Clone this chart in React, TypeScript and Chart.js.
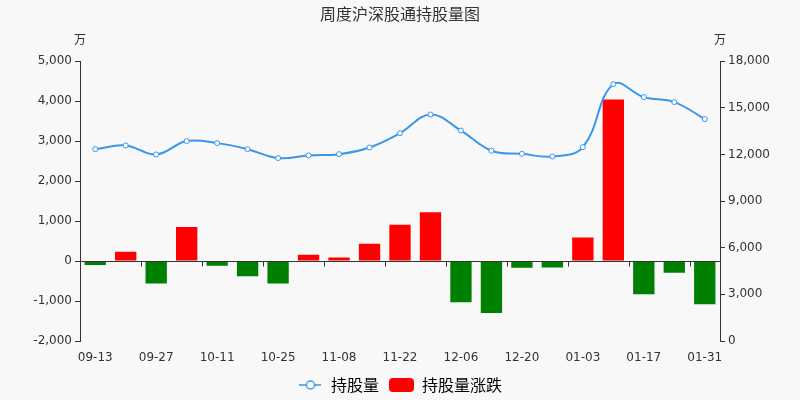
import React, { useEffect, useRef } from 'react';
import { Chart, registerables, ChartConfiguration } from 'chart.js';

Chart.register(...registerables);

const weeks = [
  '09-13', '09-20', '09-27', '10-04', '10-11', '10-18', '10-25', '11-01', '11-08', '11-15', '11-22',
  '11-29', '12-06', '12-13', '12-20', '12-27', '01-03', '01-10', '01-17', '01-24', '01-31',
];
// 持股量（万）
const holdings = [
  12340, 12580, 12000, 12860, 12730, 12340, 11770, 11940, 12020, 12450, 13370,
  14570, 13540, 12240, 12040, 11870, 12470, 16520, 15690, 15370, 14280,
];
// 持股量涨跌（万）
const changes = [
  -100, 230, -560, 850, -120, -380, -560, 160, 90, 430, 910,
  1220, -1030, -1300, -170, -160, 590, 4040, -830, -290, -1080,
];
const leftTicks = [-2000, 5000, 1000];
const rightTicks = [0, 18000, 3000];

const FONT = '"DejaVu Sans", "Noto Sans CJK SC", sans-serif';
const CJK = '"Noto Sans CJK SC", "DejaVu Sans", sans-serif';
const LINE_COLOR = '#3a97e8';

// 图例图标
const makeLineIcon = () => {
  const c = document.createElement('canvas');
  c.width = 22;
  c.height = 12;
  const g = c.getContext('2d')!;
  g.strokeStyle = LINE_COLOR;
  g.lineWidth = 1.5;
  g.beginPath();
  g.moveTo(0, 6);
  g.lineTo(22, 6);
  g.stroke();
  g.fillStyle = '#fff';
  g.beginPath();
  g.arc(11, 6, 4, 0, Math.PI * 2);
  g.fill();
  g.stroke();
  return c;
};

const makeBarIcon = () => {
  const c = document.createElement('canvas');
  c.width = 25;
  c.height = 14;
  const g = c.getContext('2d')!;
  g.fillStyle = '#ff0000';
  g.beginPath();
  g.roundRect(0, 0, 25, 14, 4);
  g.fill();
  return c;
};

const fmt = (v: number | string) => Number(v).toLocaleString('en-US');

const App: React.FC = () => {
  const chartRef = useRef<HTMLCanvasElement>(null);
  const chartInstance = useRef<Chart | null>(null);

  useEffect(() => {
    document.body.style.margin = '0';
    if (!chartRef.current) return;
    const ctx = chartRef.current.getContext('2d');
    if (!ctx) return;

    const lineIcon = makeLineIcon();
    const barIcon = makeBarIcon();

    // 背景、零轴线、刻度、单位
    const decor = {
      id: 'decor',
      afterLayout(chart: any) {
        if (chart.legend) {
          chart.legend.top += 3;
          chart.legend.bottom += 3;
        }
      },
      beforeDraw(chart: Chart) {
        const c = chart.ctx;
        c.save();
        c.fillStyle = '#f8f8f8';
        c.fillRect(0, 0, chart.width, chart.height);
        c.restore();
      },
      afterDatasetsDraw(chart: Chart) {
        const c = chart.ctx;
        const x = chart.scales.x;
        const yl = chart.scales.yLeft;
        const yr = chart.scales.yRight;
        const area = chart.chartArea;
        const y0 = Math.round(yl.getPixelForValue(0)) + 0.5;
        c.save();
        c.strokeStyle = '#333';
        c.lineWidth = 1;
        c.beginPath();
        c.moveTo(area.left, y0);
        c.lineTo(area.right, y0);
        for (let k = 2; k < weeks.length; k += 2) {
          const px = Math.round((x.getPixelForValue(k - 1) + x.getPixelForValue(k)) / 2) + 0.5;
          c.moveTo(px, y0);
          c.lineTo(px, y0 + 5);
        }
        c.stroke();
        c.fillStyle = '#333';
        c.font = `12px ${CJK}`;
        c.textAlign = 'center';
        c.textBaseline = 'middle';
        c.fillText('万', yl.right, area.top - 22);
        c.fillText('万', yr.left, area.top - 22);
        c.restore();
      },
    };

    const config: ChartConfiguration = {
      type: 'bar',
      data: {
        labels: weeks,
        datasets: [
          {
            type: 'line',
            label: '持股量',
            data: holdings,
            yAxisID: 'yRight',
            borderColor: LINE_COLOR,
            borderWidth: 2,
            pointRadius: 2.5,
            pointBackgroundColor: '#fff',
            pointBorderColor: LINE_COLOR,
            pointBorderWidth: 1,
            tension: 0.4,
            order: 0,
          } as any,
          {
            type: 'bar',
            label: '持股量涨跌',
            data: changes,
            yAxisID: 'yLeft',
            backgroundColor: changes.map(v => (v >= 0 ? '#ff0000' : '#008000')),
            barPercentage: 0.7,
            categoryPercentage: 1,
            order: 1,
          } as any,
        ],
      },
      options: {
        responsive: false,
        animation: false,
        layout: { padding: { left: 0, right: 0, top: 0, bottom: 0 } },
        plugins: {
          title: {
            display: true,
            text: '周度沪深股通持股量图',
            color: '#333',
            font: { family: CJK, size: 16, weight: 'normal' },
            padding: { top: 4, bottom: 38 },
          },
          legend: {
            position: 'bottom',
            labels: {
              usePointStyle: true,
              pointStyleWidth: 25,
              color: '#333',
              font: { family: CJK, size: 16 },
              padding: 10,
              generateLabels: () => [
                { text: '持股量', pointStyle: lineIcon, fillStyle: LINE_COLOR, strokeStyle: LINE_COLOR, lineWidth: 0, datasetIndex: 0, hidden: false },
                { text: '持股量涨跌', pointStyle: barIcon, fillStyle: '#ff0000', strokeStyle: '#ff0000', lineWidth: 0, datasetIndex: 1, hidden: false },
              ] as any,
            },
          },
          tooltip: { enabled: false },
        },
        scales: {
          x: {
            grid: { display: false },
            border: { display: false },
            ticks: {
              autoSkip: false,
              maxRotation: 0,
              padding: 2,
              color: '#333',
              font: { family: FONT, size: 12 },
              callback: (_v: any, i: number) => (i % 2 === 0 ? weeks[i] : ''),
            },
            afterFit: (s: any) => {
              s.height = 23;
            },
          },
          yLeft: {
            position: 'left',
            min: leftTicks[0],
            max: leftTicks[1],
            ticks: {
              stepSize: leftTicks[2],
              color: '#333',
              padding: 3,
              font: { family: FONT, size: 12 },
              callback: (v: any) => fmt(v),
            },
            grid: { drawOnChartArea: false, tickLength: 5, color: '#333' },
            border: { display: true, color: '#333' },
            afterFit: (s: any) => {
              s.width = 80;
            },
          },
          yRight: {
            position: 'right',
            min: rightTicks[0],
            max: rightTicks[1],
            ticks: {
              stepSize: rightTicks[2],
              color: '#333',
              padding: 3,
              font: { family: FONT, size: 12 },
              callback: (v: any) => fmt(v),
            },
            grid: { drawOnChartArea: false, tickLength: 5, color: '#333' },
            border: { display: true, color: '#333' },
            afterFit: (s: any) => {
              s.width = 80;
            },
          },
        },
      } as any,
      plugins: [decor],
    };

    chartInstance.current = new Chart(ctx, config);

    return () => {
      if (chartInstance.current) {
        chartInstance.current.destroy();
        chartInstance.current = null;
      }
    };
  }, []);

  return (
    <div style={{ width: 800, height: 400 }}>
      <canvas ref={chartRef} width={800} height={400}></canvas>
    </div>
  );
};

export default App;
